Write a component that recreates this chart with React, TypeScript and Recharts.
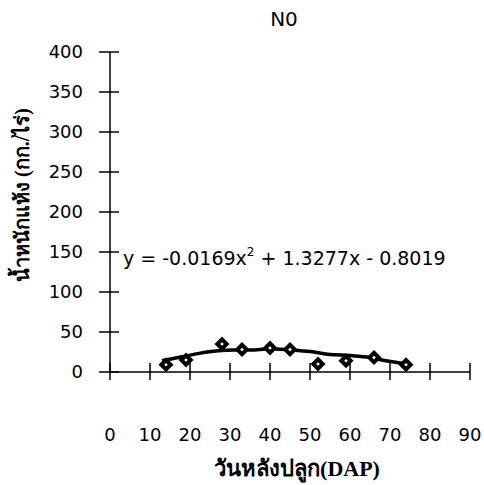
import { ComposedChart, Line, Scatter, XAxis, YAxis } from 'recharts';

// measured dry weight (kg/rai) by days after planting
const dap = [14, 19, 28, 33, 40, 45, 52, 59, 66, 74];
const dryWeight = [9, 15, 35, 28, 30, 28, 10, 14, 18, 9];

// trend line
const trendDap = [13, 18, 22, 27, 31, 35, 40, 45, 50, 55, 60, 65, 69, 73];
const trendWeight = [14, 19, 23, 26.5, 27.5, 27.5, 29, 27.5, 25.5, 22, 20.5, 18, 14, 11];

const xTicks = [0, 10, 20, 30, 40, 50, 60, 70, 80, 90];
const yTicks = [0, 50, 100, 150, 200, 250, 300, 350, 400];

const points = dap.map((x, i) => ({ x, y: dryWeight[i] }));
const trend = trendDap.map((x, i) => ({ x, y: trendWeight[i] }));

const numFont = '"DejaVu Sans", sans-serif';
const thaiFont = '"Liberation Serif", serif';

function XTick({ x, y, payload }: any) {
  return (
    <g>
      <line x1={x} x2={x} y1={y - 9} y2={y + 8} stroke="#000" strokeWidth={1.5} />
      <text x={x} y={y + 63} dy="0.35em" textAnchor="middle" fontFamily={numFont} fontSize={18} fill="#000">
        {payload.value}
      </text>
    </g>
  );
}

function YTick({ x, y, payload }: any) {
  return (
    <g>
      <line x1={x - 11} x2={x + 9} y1={y} y2={y} stroke="#000" strokeWidth={1.5} />
      <text x={x - 27} y={y} dy="0.35em" textAnchor="end" fontFamily={numFont} fontSize={18} fill="#000">
        {payload.value}
      </text>
    </g>
  );
}

function Diamond({ cx, cy }: any) {
  const r = 7.5;
  const s = 1.8;
  return (
    <g>
      <polygon points={`${cx},${cy - r} ${cx + r},${cy} ${cx},${cy + r} ${cx - r},${cy}`} fill="#000" />
      <polygon points={`${cx},${cy - s} ${cx + s},${cy} ${cx},${cy + s} ${cx - s},${cy}`} fill="#fff" />
    </g>
  );
}

export default function App() {
  return (
    <div style={{ width: 484, height: 485, background: '#fff' }}>
      <style>{'body{margin:0}'}</style>
      <ComposedChart width={484} height={485} margin={{ top: 52, right: 14, bottom: 83, left: 50 }}>
        <XAxis
          type="number"
          dataKey="x"
          domain={[0, 90]}
          ticks={xTicks}
          height={30}
          tickSize={0}
          tickMargin={0}
          tickLine={false}
          axisLine={{ stroke: '#000', strokeWidth: 1.5 }}
          tick={<XTick />}
        />
        <YAxis
          type="number"
          dataKey="y"
          domain={[0, 400]}
          ticks={yTicks}
          width={60}
          tickSize={0}
          tickMargin={0}
          tickLine={false}
          axisLine={{ stroke: '#000', strokeWidth: 1.5 }}
          tick={<YTick />}
        />
        <Line
          data={trend}
          dataKey="y"
          type="monotone"
          stroke="#000"
          strokeWidth={3.5}
          dot={false}
          isAnimationActive={false}
        />
        <Scatter data={points} dataKey="y" fill="#000" shape={<Diamond />} isAnimationActive={false} />
        <text x={284} y={19} dy="0.35em" textAnchor="middle" fontFamily={numFont} fontSize={20} fill="#000">
          N0
        </text>
        <text x={123} y={265} fontFamily={numFont} fontSize={19} fill="#000">
          y = -0.0169x
          <tspan dy={-9} fontSize={12}>2</tspan>
          <tspan dy={9}> + 1.3277x - 0.8019</tspan>
        </text>
        <text
          x={22}
          y={195}
          dy="0.35em"
          transform="rotate(-90 22 195)"
          textAnchor="middle"
          fontFamily={thaiFont}
          fontWeight="bold"
          fontSize={20}
          fill="#000"
        >
          น้ำหนักแห้ง (กก./ไร่)
        </text>
        <text x={297} y={468} dy="0.35em" textAnchor="middle" fontFamily={thaiFont} fontWeight="bold" fontSize={22} fill="#000">
          วันหลังปลูก(DAP)
        </text>
      </ComposedChart>
    </div>
  );
}
